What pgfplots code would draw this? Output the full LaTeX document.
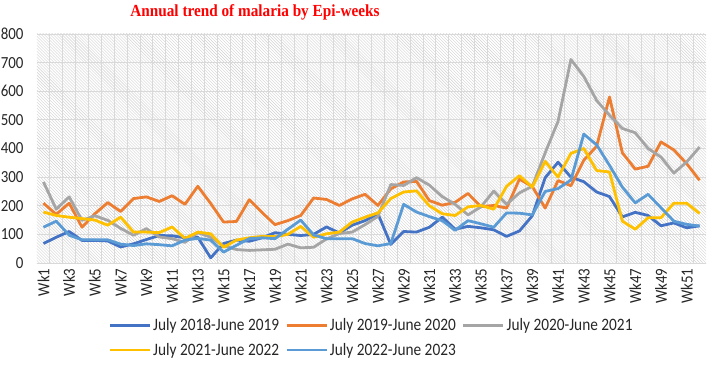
\documentclass[border=0pt]{standalone}
\usepackage{pgfplots}
\usepackage{pgfplotstable}
\pgfplotsset{compat=1.18}
\usepackage{fontspec}
\setmainfont{Carlito}[FakeStretch=0.88]
\newfontfamily\titlefont{Liberation Serif}[FakeStretch=0.9]
\usetikzlibrary{patterns}
\definecolor{cdb}{HTML}{4472C4}
\definecolor{cor}{HTML}{ED7D31}
\definecolor{cgr}{HTML}{A5A5A5}
\definecolor{cye}{HTML}{FFC000}
\definecolor{clb}{HTML}{5B9BD5}
\definecolor{cgrid}{HTML}{D9D9D9}
\definecolor{ctitle}{HTML}{FF0000}

\pgfplotstableread{
wk db or gr ye lb
1 68 209 283 178 125
2 90 170 188 166 146
3 110 209 231 160 97
4 79 125 149 155 81
5 79 172 165 150 81
6 77 211 149 132 81
7 56 180 121 160 66
8 67 225 97 108 61
9 82 231 120 108 67
10 96 215 91 106 64
11 95 235 85 126 60
12 88 205 72 86 80
13 90 268 106 108 86
14 18 208 90 102 80
15 68 143 60 55 38
16 80 145 47 80 62
17 76 221 44 88 85
18 88 176 46 93 88
19 106 134 48 92 85
20 100 148 66 100 118
21 96 166 53 128 150
22 100 227 55 90 98
23 126 222 84 102 85
24 105 201 103 108 85
25 132 224 108 143 85
26 148 240 134 160 68
27 172 201 163 175 60
28 65 259 274 225 68
29 110 283 271 248 205
30 108 285 298 252 178
31 125 218 272 200 162
32 160 202 232 172 148
33 118 212 205 166 114
34 128 243 168 196 148
35 123 197 196 201 137
36 116 201 251 188 125
37 93 192 205 268 175
38 112 293 245 305 174
39 165 267 268 265 168
40 298 192 385 355 250
41 352 288 495 300 260
42 300 270 711 383 290
43 284 359 652 400 450
44 248 408 568 323 413
45 232 580 516 318 341
46 161 385 470 146 265
47 177 328 455 118 210
48 166 338 400 158 240
49 130 423 370 158 193
50 140 395 314 209 146
51 123 347 353 209 135
52 130 289 405 173 129
}\datatable

\begin{document}
\begin{tikzpicture}
\path[use as bounding box] (-37bp,-107bp) rectangle (671bp,263bp);
\begin{axis}[
  at={(0bp,0bp)}, anchor=south west,
  scale only axis, width=669bp, height=229bp,
  xmin=0.5, xmax=52.5, ymin=0, ymax=800,
  ytick={0,100,...,800},
  xtick={1,3,...,51},
  xticklabels={Wk1,Wk3,Wk5,Wk7,Wk9,Wk11,Wk13,Wk15,Wk17,Wk19,Wk21,Wk23,Wk25,Wk27,Wk29,Wk31,Wk33,Wk35,Wk37,Wk39,Wk41,Wk43,Wk45,Wk47,Wk49,Wk51},
  minor xtick={1.5,2.5,...,51.5},
  xminorgrids=true, ymajorgrids=true, xmajorgrids=false,
  major grid style={draw=cgrid, line width=0.8bp},
  minor grid style={draw=cgrid, line width=0.8bp},
  axis background/.style={pattern=north west lines, pattern color=black!18},
  axis x line*=bottom, axis y line*=left,
  y axis line style={draw=none},
  x axis line style={draw=cgrid, line width=0.8bp, -},
  major tick length=0pt, minor tick length=0pt,
  tick style={draw=none},
  /pgf/number format/assume math mode=true,
  tick label style={font=\fontsize{17}{20}\selectfont, text=black!85},
  y tick label style={anchor=east, xshift=-10bp},
  x tick label style={rotate=90, anchor=east, yshift=0bp, xshift=-2bp},
  legend columns=3,
  legend cell align=left,
  legend style={at={(0.5,-0.225)}, anchor=north, draw=none, fill=none,
    font=\fontsize{17.5}{20}\selectfont, text=black!85,
    /tikz/every even column/.append style={column sep=4bp},
    row sep=7bp},
  legend image code/.code={\draw[#1] (0bp,0bp) -- (40bp,0bp);},
  every axis plot/.append style={line width=2.8bp, line join=round},
]
\addplot[color=cdb] table[x=wk, y=db] {\datatable};
\addlegendentry{July 2018-June 2019}
\addplot[color=cor] table[x=wk, y=or] {\datatable};
\addlegendentry{July 2019-June 2020}
\addplot[color=cgr] table[x=wk, y=gr] {\datatable};
\addlegendentry{July 2020-June 2021}
\addplot[color=cye] table[x=wk, y=ye] {\datatable};
\addlegendentry{July 2021-June 2022}
\addplot[color=clb] table[x=wk, y=lb] {\datatable};
\addlegendentry{July 2022-June 2023}
\end{axis}
\node[font=\titlefont\bfseries\fontsize{17}{20}\selectfont, text=ctitle] at (218bp,251bp) {Annual trend of malaria by Epi-weeks};
\end{tikzpicture}
\end{document}
